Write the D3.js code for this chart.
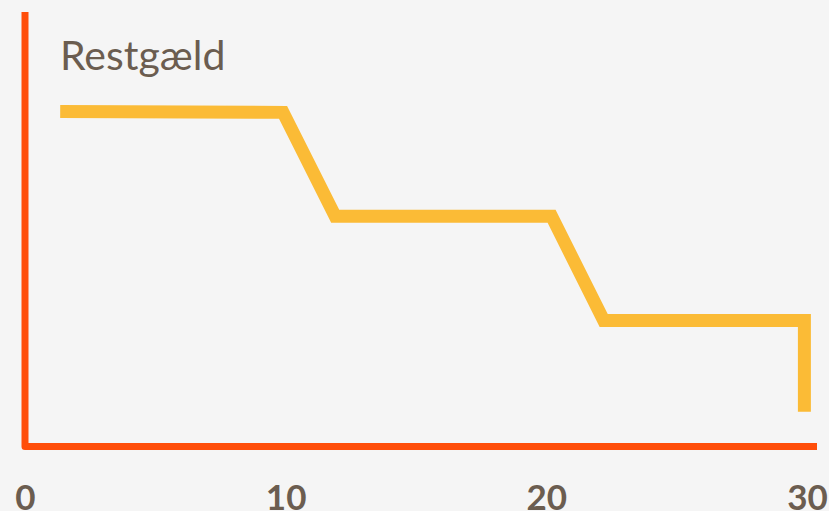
<!DOCTYPE html>
<html>
<head>
<meta charset="utf-8">
<script src="https://cdn.jsdelivr.net/npm/d3@7"></script>
<style>
  html, body { margin: 0; padding: 0; background: #f5f5f5; overflow: hidden; }
</style>
</head>
<body>
<div id="chart"></div>
<script>
// years on x, remaining debt (arbitrary index) on y
const years = [1.35, 9.9, 11.9, 20.2, 22.2, 29.9, 29.9];
const debt = [77.1, 76.9, 53, 53, 29, 29, 8];
const xTicks = [0, 10, 20, 30];
const title = "Restgæld";

const width = 829, height = 511;

const x = d3.scaleLinear().domain([0, 30]).range([25, 807]);
const y = d3.scaleLinear().domain([0, 100]).range([446.5, 12]);

const svg = d3.select("#chart").append("svg")
    .attr("width", width)
    .attr("height", height)
    .style("background", "#f5f5f5");

// axis lines (left + bottom)
svg.append("path")
    .attr("d", `M${x(0)},${y(100)}V${y(0)}H817`)
    .attr("fill", "none")
    .attr("stroke", "#ff4e0a")
    .attr("stroke-width", 7)
    .attr("stroke-linejoin", "round");

// the debt line
const line = d3.line()
    .x((d, i) => x(years[i]))
    .y(d => y(d));

svg.append("path")
    .datum(debt)
    .attr("d", line)
    .attr("fill", "none")
    .attr("stroke", "#fbbb36")
    .attr("stroke-width", 13)
    .attr("stroke-linejoin", "miter")
    .attr("stroke-linecap", "butt");

svg.append("text")
    .attr("x", 60)
    .attr("y", 70)
    .attr("fill", "#6b5d50")
    .style("font", "41px Lato, sans-serif")
    .text(title);

const axis = d3.axisBottom(x)
    .tickValues(xTicks)
    .tickSize(0)
    .tickPadding(0)
    .tickFormat(d3.format("d"));

const g = svg.append("g")
    .attr("transform", "translate(0,485)")
    .call(axis);
g.select(".domain").remove();
g.selectAll("text")
    .attr("dy", null)
    .attr("y", 25)
    .attr("fill", "#6b5d50")
    .style("font", "bold 35px Lato, sans-serif");
</script>
</body>
</html>
